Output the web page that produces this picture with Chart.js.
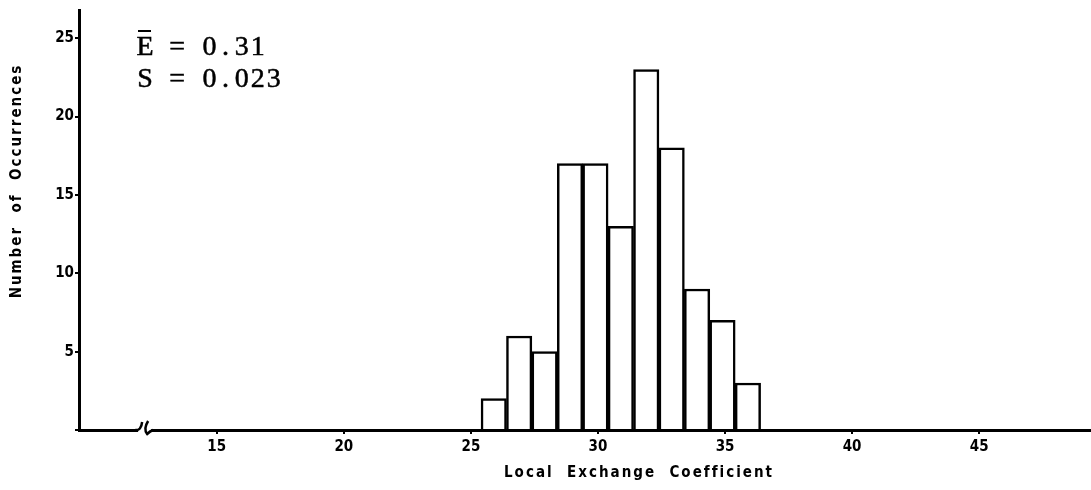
<!DOCTYPE html>
<html>
<head>
<meta charset="utf-8">
<script src="https://cdn.jsdelivr.net/npm/chart.js@4/dist/chart.umd.min.js"></script>
<style>
  html, body { margin: 0; padding: 0; background: #fff; }
  #wrap { width: 1091px; height: 490px; position: relative; }
</style>
</head>
<body>
<div id="wrap"><canvas id="hist"></canvas></div>
<script>
// Histogram bins (centers, units of 0.01) and their counts
const binCenters = [25.9, 26.9, 27.9, 28.9, 29.9, 30.9, 31.9, 32.9, 33.9, 34.9, 35.9];
const counts     = [2, 6, 5, 17, 17, 13, 23, 18, 9, 7, 3];
const xTickValues = [15, 20, 25, 30, 35, 40, 45];
const yTickValues = [0, 5, 10, 15, 20, 25];
const statLines = ['E = 0.31', 'S = 0.023'];
const xTitle = 'Local  Exchange  Coefficient';
const yTitle = 'Number  of  Occurrences';

const labelFamily = "'DejaVu Sans Condensed', 'DejaVu Sans', sans-serif";

const decorations = {
  id: 'decorations',
  afterDraw(chart) {
    const ctx = chart.ctx;
    const xs = chart.scales.x;
    const area = chart.chartArea;
    const y0 = area.bottom;
    ctx.save();
    ctx.strokeStyle = '#000';
    ctx.fillStyle = '#000';

    // axis break on the x axis
    const bx = xs.getPixelForValue(12.3);
    ctx.fillStyle = '#fff';
    ctx.fillRect(bx - 10, y0 - 3, 13, 6);
    ctx.fillStyle = '#000';
    ctx.lineWidth = 2.5;
    ctx.beginPath();
    ctx.moveTo(bx - 13, y0);
    ctx.quadraticCurveTo(bx - 7, y0 + 1, bx - 6, y0 - 8);
    ctx.stroke();
    ctx.beginPath();
    ctx.moveTo(bx, y0 - 9);
    ctx.quadraticCurveTo(bx - 5, y0 - 1, bx - 1, y0 + 4);
    ctx.quadraticCurveTo(bx + 2, y0 + 1, bx + 5, y0);
    ctx.stroke();

    // mean and standard deviation, typed at a fixed pitch
    ctx.font = "28px 'Liberation Serif', 'DejaVu Serif', serif";
    ctx.textBaseline = 'alphabetic';
    ctx.textAlign = 'center';
    ctx.lineWidth = 0.5;
    const tx = 137, pitch = 16.1;
    [55, 87].forEach((by, i) => {
      const line = statLines[i];
      for (let k = 0; k < line.length; k++) {
        const ch = line[k];
        if (ch === ' ') continue;
        const cx = tx + pitch * (k + 0.5);
        ctx.fillText(ch, cx, by);
        ctx.strokeText(ch, cx, by);
      }
    });
    // bar over the E
    ctx.lineWidth = 2;
    ctx.beginPath();
    ctx.moveTo(tx + 1, 31);
    ctx.lineTo(tx + 14, 31);
    ctx.stroke();

    // axis titles
    ctx.font = "bold 15px " + labelFamily;
    ctx.letterSpacing = '2px';
    ctx.textAlign = 'center';
    ctx.textBaseline = 'middle';
    ctx.fillText(xTitle, 639, 473);
    ctx.save();
    ctx.translate(17, 181);
    ctx.rotate(-Math.PI / 2);
    ctx.fillText(yTitle, 0, 0);
    ctx.restore();
    ctx.restore();
  }
};

new Chart(document.getElementById('hist'), {
  type: 'bar',
  data: {
    datasets: [{
      data: binCenters.map((c, i) => ({ x: c, y: counts[i] })),
      backgroundColor: '#fff',
      borderColor: '#000',
      borderWidth: 2.5,
      barPercentage: 1,
      categoryPercentage: 1
    }]
  },
  options: {
    responsive: true,
    maintainAspectRatio: false,
    animation: false,
    layout: { padding: { top: 10, right: 0, left: 0, bottom: 0 } },
    plugins: { legend: { display: false }, tooltip: { enabled: false } },
    scales: {
      x: {
        type: 'linear',
        min: 9.58,
        max: 49.4,
        offset: false,
        afterBuildTicks: s => { s.ticks = xTickValues.map(v => ({ value: v })); },
        afterFit: s => { s.height = 60; },
        border: { color: '#000', width: 3 },
        grid: { offset: false, drawOnChartArea: false, drawTicks: true, tickLength: 4, color: '#000', lineWidth: 2 },
        ticks: { color: '#000', font: { family: labelFamily, size: 15, weight: 'bold' }, padding: 4, maxRotation: 0, autoSkip: false }
      },
      y: {
        min: 0,
        max: 26.8,
        afterBuildTicks: s => { s.ticks = yTickValues.map(v => ({ value: v })); },
        afterFit: s => { s.width = 79; },
        border: { color: '#000', width: 3 },
        grid: { offset: false, drawOnChartArea: false, drawTicks: true, tickLength: 4, color: '#000', lineWidth: 2 },
        ticks: {
          color: '#000',
          font: { family: labelFamily, size: 15, weight: 'bold' },
          padding: 1,
          callback: v => (v === 0 ? '' : String(v))
        }
      }
    }
  },
  plugins: [decorations]
});
</script>
</body>
</html>
